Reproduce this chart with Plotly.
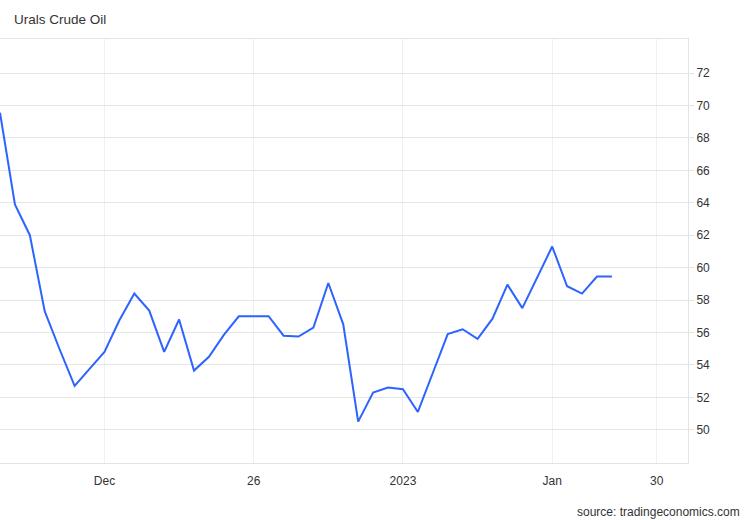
import plotly.graph_objects as go

# Data
prices = [69.55, 63.9, 62.0, 57.3, 54.95, 52.7, 53.75, 54.8, 56.75, 58.4,
          57.35, 54.8, 56.8, 53.65, 54.5, 55.85, 57.0, 57.0, 57.0, 55.8,
          55.75, 56.3, 59.05, 56.5, 50.5, 52.3, 52.6, 52.5, 51.1, 53.5,
          55.9, 56.2, 55.6, 56.85, 58.95, 57.5, 59.35, 61.3, 58.85, 58.4,
          59.45, 59.45]
session = list(range(len(prices)))
x_tick_pos = [7, 17, 27, 37, 44]
x_tick_labels = ["Dec", "26", "2023", "Jan", "30"]
y_ticks = [50, 52, 54, 56, 58, 60, 62, 64, 66, 68, 70, 72]

FONT = "Liberation Sans, Arial, sans-serif"

fig = go.Figure()
fig.add_trace(go.Scatter(
    x=session, y=prices, mode="lines",
    line=dict(color="#2d63ff", width=2),
    hoverinfo="x+y", showlegend=False,
))

fig.update_layout(
    width=750, height=520,
    margin=dict(l=0, r=62, t=39, b=57),
    paper_bgcolor="white", plot_bgcolor="white",
    font=dict(family=FONT, size=12, color="#333333"),
    showlegend=False,
    xaxis=dict(
        range=[0, 46.1],
        tickmode="array", tickvals=x_tick_pos, ticktext=x_tick_labels,
        showgrid=True, gridcolor="#edf1f6", gridwidth=1,
        showline=True, linecolor="#e3e3e3", linewidth=1, mirror=True,
        ticks="", zeroline=False, ticklabelstandoff=7,
        tickfont=dict(family=FONT, size=12, color="#333333"),
    ),
    yaxis=dict(
        range=[47.95, 74.1], side="right",
        tickmode="array", tickvals=y_ticks,
        showgrid=True, gridcolor="#e6e6e6", gridwidth=1,
        showline=True, linecolor="#e3e3e3", linewidth=1,
        ticks="outside", ticklen=5, tickcolor="#e3e3e3",
        zeroline=False,
        tickfont=dict(family=FONT, size=12, color="#333333"),
    ),
    annotations=[
        dict(text="Urals Crude Oil", xref="paper", yref="paper",
             x=12/688, y=1, yshift=20, xanchor="left", yanchor="middle",
             showarrow=False, font=dict(family=FONT, size=13.5, color="#333333")),
        dict(text="source: tradingeconomics.com", xref="paper", yref="paper",
             x=742/688, y=0, yshift=-49, xanchor="right", yanchor="middle",
             showarrow=False, font=dict(family=FONT, size=12, color="#333333")),
    ],
)

fig.write_html("out.html", config={"displayModeBar": False},
               post_script="document.body.style.margin='0px';")
